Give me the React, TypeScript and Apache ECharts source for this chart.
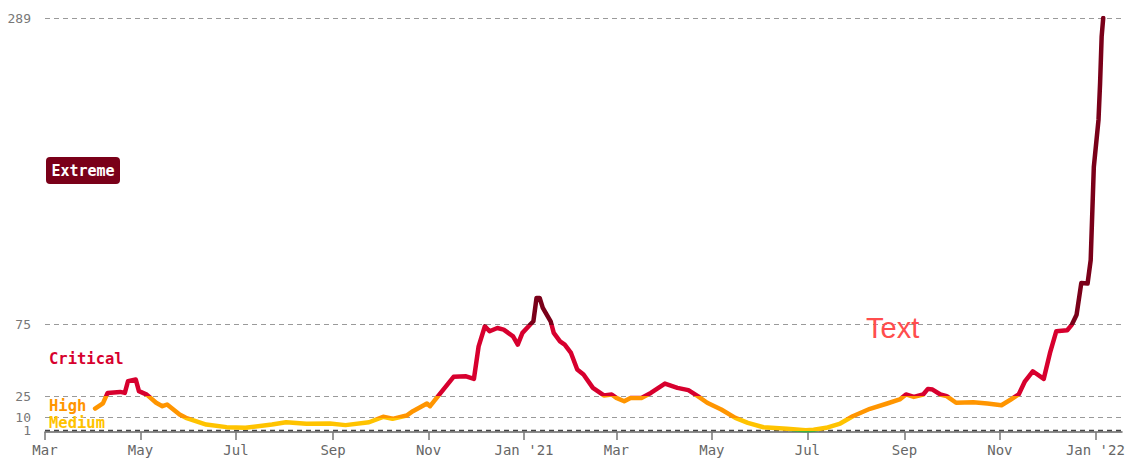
import React, { useEffect, useRef } from "react";
import * as echarts from "echarts";

// ---- data ----
const dates = [
  "2020-04-02", "2020-04-07", "2020-04-10", "2020-04-18", "2020-04-21", "2020-04-23", "2020-04-28", "2020-04-30",
  "2020-05-05", "2020-05-11", "2020-05-15", "2020-05-18", "2020-05-26", "2020-05-30", "2020-06-12", "2020-06-25",
  "2020-07-07", "2020-07-24", "2020-08-02", "2020-08-15", "2020-08-30", "2020-09-09", "2020-09-24", "2020-10-03",
  "2020-10-09", "2020-10-18", "2020-10-22", "2020-10-31", "2020-11-02", "2020-11-08", "2020-11-17", "2020-11-25",
  "2020-11-30", "2020-12-03", "2020-12-07", "2020-12-10", "2020-12-15", "2020-12-19", "2020-12-25", "2020-12-28",
  "2020-12-31", "2021-01-05", "2021-01-07", "2021-01-09", "2021-01-11", "2021-01-13", "2021-01-18", "2021-01-20",
  "2021-01-24", "2021-01-27", "2021-01-31", "2021-02-04", "2021-02-08", "2021-02-14", "2021-02-21", "2021-02-26",
  "2021-03-01", "2021-03-06", "2021-03-10", "2021-03-17", "2021-03-23", "2021-04-01", "2021-04-09", "2021-04-16",
  "2021-04-22", "2021-04-28", "2021-05-07", "2021-05-16", "2021-05-24", "2021-06-03", "2021-06-18", "2021-06-30",
  "2021-07-05", "2021-07-13", "2021-07-22", "2021-07-30", "2021-08-10", "2021-08-21", "2021-08-29", "2021-09-02",
  "2021-09-07", "2021-09-13", "2021-09-16", "2021-09-19", "2021-09-24", "2021-09-28", "2021-10-04", "2021-10-15",
  "2021-10-24", "2021-11-02", "2021-11-08", "2021-11-13", "2021-11-17", "2021-11-22", "2021-11-29", "2021-12-03",
  "2021-12-07", "2021-12-14", "2021-12-17", "2021-12-20", "2021-12-23", "2021-12-27", "2021-12-29", "2021-12-31",
  "2022-01-03", "2022-01-04", "2022-01-05", "2022-01-06",
];
const values = [
  16.4, 20, 27.3, 28, 27.3, 35.4, 36.6, 28.5,
  26.1, 20.4, 18, 19.2, 12.2, 9.9, 5.2, 3.4,
  2.9, 5.2, 6.8, 5.7, 5.9, 4.8, 6.8, 10.6,
  9.2, 11.5, 14.5, 19.9, 18, 26.2, 38.5, 38.9,
  37.1, 59.8, 73.8, 70.3, 72.6, 71.5, 66.8, 61,
  69.2, 75, 77.3, 93.6, 93.6, 86.6, 77.3, 69.2,
  63.3, 61, 55.2, 43.6, 40.1, 30.8, 25.5, 26.2,
  23.8, 21.5, 23.8, 23.8, 27.3, 33.8, 30.8, 29.2,
  25, 20.4, 15.7, 9.9, 6.4, 3.3, 2.2, 1.2,
  1.6, 2.9, 5.9, 11, 16.2, 19.9, 22.7, 26.2,
  24.5, 26.2, 30.1, 29.6, 26.2, 25, 20.4, 20.8,
  19.9, 18.7, 22.7, 26.2, 35.4, 42.4, 37.1, 55.2,
  70.3, 71, 75, 81.9, 104, 103.6, 120, 185,
  218, 243.5, 276, 289,
];

const yTickValues = [1, 10, 25, 75, 289];
const xTickDates = [
  "2020-03-01", "2020-05-01", "2020-07-01", "2020-09-01", "2020-11-01", "2021-01-01",
  "2021-03-01", "2021-05-01", "2021-07-01", "2021-09-01", "2021-11-01", "2022-01-01",
];
const xTickLabels = ["Mar", "May", "Jul", "Sep", "Nov", "Jan '21", "Mar", "May", "Jul", "Sep", "Nov", "Jan '22"];
const xMin = "2020-03-01";
const xMax = "2022-01-18";

const levelNames = ["Medium", "High", "Critical", "Extreme"];
const levelColors = ["#ffc300", "#ff9500", "#d7002e", "#7a0019"];
const lowColor = "#3cb043";

const toTime = (s: string) => {
  const [y, m, d] = s.split("-").map(Number);
  return Date.UTC(y, m - 1, d);
};

export default function App() {
  const ref = useRef<HTMLDivElement>(null);

  useEffect(() => {
    if (!ref.current) return;
    const chart = echarts.init(ref.current, undefined, { renderer: "svg" });
    const tickTimes = xTickDates.map(toTime);
    const mono = "DejaVu Sans Mono";
    const gridLabel = {
      show: true,
      position: "start" as const,
      formatter: "{c}",
      color: "#777",
      fontFamily: mono,
      fontSize: 13,
      lineHeight: 11,
      distance: 14,
    };

    chart.setOption({
      animation: false,
      backgroundColor: "#ffffff",
      grid: { left: 45, right: 3, top: 18, bottom: 29, containLabel: false, outerBoundsMode: "none" },
      visualMap: {
        type: "piecewise",
        show: false,
        dimension: 1,
        seriesIndex: 0,
        pieces: [
          { lt: 1, color: lowColor },
          { gte: 1, lt: 10, color: levelColors[0] },
          { gte: 10, lt: 25, color: levelColors[1] },
          { gte: 25, lt: 75, color: levelColors[2] },
          { gte: 75, color: levelColors[3] },
        ],
      },
      xAxis: {
        type: "value",
        min: toTime(xMin),
        max: toTime(xMax),
        splitLine: { show: false },
        axisLine: { show: true, lineStyle: { color: "#666", width: 1.5 } },
        axisTick: {
          show: true,
          length: 8,
          customValues: tickTimes,
          lineStyle: { color: "#777", width: 1.5 },
        },
        axisLabel: {
          customValues: tickTimes,
          margin: 11,
          color: "#666",
          fontFamily: mono,
          fontSize: 14,
          hideOverlap: false,
          formatter: (v: number) => {
            let best = 0;
            let bd = Infinity;
            tickTimes.forEach((t, i) => {
              const d = Math.abs(t - v);
              if (d < bd) {
                bd = d;
                best = i;
              }
            });
            return xTickLabels[best];
          },
        },
      },
      yAxis: {
        type: "value",
        min: 0,
        max: 289,
        splitLine: { show: false },
        axisLine: { show: false },
        axisTick: { show: false },
        axisLabel: { show: false },
      },
      series: [
        {
          type: "line",
          data: dates.map((d, i) => [toTime(d), values[i]]),
          showSymbol: false,
          lineStyle: { width: 4.5, join: "round", cap: "round" },
          z: 3,
          markLine: {
            silent: true,
            symbol: ["none", "none"],
            label: gridLabel,
            z: 1,
            lineStyle: { type: [5, 4], color: "#9a9a9a", width: 1.2 },
            data: yTickValues.map((v) => ({
              yAxis: v,
              label: gridLabel,
              lineStyle: v === 1 ? { type: [5, 4], color: "#444", width: 1.4 } : { type: [5, 4], color: "#9a9a9a", width: 1.2 },
            })),
          },
        },
      ],
      graphic: [
        {
          type: "rect",
          shape: { x: 46, y: 157, width: 74, height: 27, r: 4 },
          style: { fill: levelColors[3] },
          z: 10,
        },
        {
          type: "text",
          x: 83,
          y: 171,
          z: 11,
          style: {
            text: levelNames[3],
            fill: "#ffffff",
            font: `bold 15px ${mono}`,
            textAlign: "center",
            textVerticalAlign: "middle",
          },
        },
        {
          type: "text",
          x: 49,
          y: 359,
          z: 11,
          style: { text: levelNames[2], fill: levelColors[2], font: `bold 15.5px ${mono}`, textAlign: "left", textVerticalAlign: "middle" },
        },
        {
          type: "text",
          x: 49,
          y: 406,
          z: 11,
          style: { text: levelNames[1], fill: levelColors[1], font: `bold 15.5px ${mono}`, textAlign: "left", textVerticalAlign: "middle" },
        },
        {
          type: "text",
          x: 49,
          y: 423,
          z: 11,
          style: { text: levelNames[0], fill: levelColors[0], font: `bold 15.5px ${mono}`, textAlign: "left", textVerticalAlign: "middle" },
        },
        {
          type: "text",
          x: 866,
          y: 328,
          z: 11,
          style: { text: "Text", fill: "#ff4d4d", font: `29px "Liberation Sans"`, textAlign: "left", textVerticalAlign: "middle" },
        },
      ],
    });

    return () => chart.dispose();
  }, []);

  return (
    <div
      ref={ref}
      style={{ position: "fixed", left: 0, top: 0, width: 1125, height: 461, background: "#fff" }}
    />
  );
}
